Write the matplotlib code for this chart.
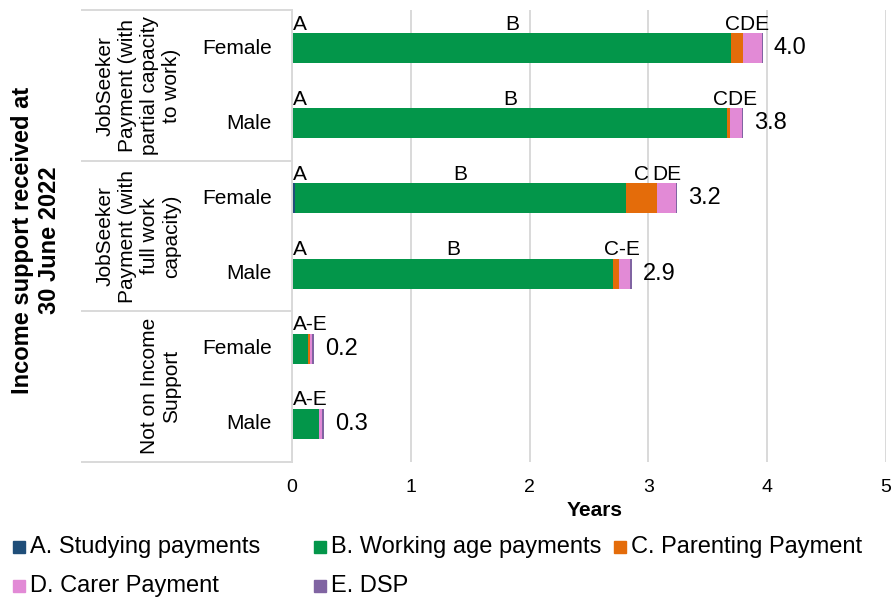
import matplotlib
matplotlib.use("Agg")
import matplotlib.pyplot as plt
from matplotlib.patches import Rectangle
import numpy as np

plt.rcParams['font.family'] = ['Liberation Sans', 'DejaVu Sans']

# Rows, top to bottom
genders = ["Female", "Male", "Female", "Male", "Female", "Male"]
groups = ["JobSeeker\nPayment (with\npartial capacity\nto work)",
          "JobSeeker\nPayment (with\nfull work\ncapacity)",
          "Not on Income\nSupport"]

# Years spent on each payment type
studying = [0.01, 0.005, 0.025, 0.01, 0.0, 0.0]
working = [3.69, 3.66, 2.785, 2.69, 0.135, 0.23]
parenting = [0.10, 0.025, 0.265, 0.05, 0.015, 0.0]
carer = [0.16, 0.10, 0.16, 0.10, 0.02, 0.02]
dsp = [0.005, 0.005, 0.005, 0.01, 0.015, 0.02]

series_names = ["A. Studying payments", "B. Working age payments", "C. Parenting Payment",
                "D. Carer Payment", "E. DSP"]
colors = ["#1F4E79", "#03964A", "#E46C0A", "#E28AD6", "#8064A2"]

# Segment labels above each bar: (text, segments it covers)
seg_labels = [
    [("A", [0]), ("B", [1]), ("CDE", [2, 3, 4])],
    [("A", [0]), ("B", [1]), ("CDE", [2, 3, 4])],
    [("A", [0]), ("B", [1]), ("C", [2]), ("DE", [3, 4])],
    [("A", [0]), ("B", [1]), ("C-E", [2, 3, 4])],
    [("A-E", [0, 1, 2, 3, 4])],
    [("A-E", [0, 1, 2, 3, 4])],
]

W, H = 892, 599
fig = plt.figure(figsize=(W / 100, H / 100), dpi=100)


def fx(px):
    return px / W


def fy(py):
    return 1 - py / H


ax = fig.add_axes([fx(292), fy(462), fx(885.75) - fx(292), fy(10) - fy(462)])

data = np.array([studying, working, parenting, carer, dsp])
y = np.arange(len(genders))
left = np.zeros(len(genders))
for vals, name, col in zip(data, series_names, colors):
    ax.barh(y, vals, left=left, height=0.4, color=col, label=name)
    left = left + vals
totals = left

ax.set_xlim(0, 5)
ax.set_ylim(5.51, -0.51)
ax.set_xticks([0, 1, 2, 3, 4, 5])
ax.tick_params(axis='x', length=0, pad=12, labelsize=14)
ax.set_yticks([])
ax.grid(axis='x', color='#d9d9d9', linewidth=1.4)
ax.set_axisbelow(True)
for s in ['top', 'right', 'bottom']:
    ax.spines[s].set_visible(False)
ax.spines['left'].set_color('#d9d9d9')
ax.spines['left'].set_linewidth(1.4)

# segment labels and totals
cum = np.vstack([np.zeros(len(genders)), np.cumsum(data, axis=0)])
for i, labs in enumerate(seg_labels):
    for text, segs in labs:
        if segs[0] == 0:
            ax.annotate(text, (0, i - 0.25), xytext=(1, 0), textcoords='offset points',
                        ha='left', va='baseline', fontsize=15)
        else:
            xc = (cum[segs[0], i] + cum[segs[-1] + 1, i]) / 2
            ax.text(xc, i - 0.25, text, ha='center', va='baseline', fontsize=15)
    ax.annotate(f"{totals[i]:.1f}", (totals[i], i), xytext=(8, 0), textcoords='offset points',
                ha='left', va='center', fontsize=17)

# gender labels
for i, g in enumerate(genders):
    ax.text(-20 / 118.75, i, g, ha='right', va='center', fontsize=15)

# group boxes on the left
trans = ax.get_yaxis_transform()
x0 = (82 - 292) / (885.75 - 292)
for yb in [-0.51, 1.5, 3.5, 5.51]:
    ax.plot([x0, 0], [yb, yb], color='#d9d9d9', linewidth=1.4, transform=trans, clip_on=False)
for k, g in enumerate(groups):
    ax.text(x0 + (181 - 82) / (885.75 - 292), 2 * k + 0.5, g, transform=trans,
            rotation=90, ha='right', va='center', multialignment='center', fontsize=15)

fig.text(fx(36), fy(240), "Income support received at\n30 June 2022", rotation=90,
         ha='center', va='center', multialignment='center', fontsize=17, fontweight='bold')
fig.text(fx(595), fy(510), "Years", ha='center', va='center', fontsize=15, fontweight='bold')

# legend
leg_pos = [(13, 547), (314, 547), (614, 547), (13, 586), (314, 586)]
for (px, py), name, col in zip(leg_pos, series_names, colors):
    fig.patches.append(Rectangle((fx(px), fy(py + 6)), fx(12), 12 / H, color=col,
                                 transform=fig.transFigure, figure=fig))
    fig.text(fx(px + 17), fy(py), name, ha='left', va='center', fontsize=17)

fig.savefig("out.png", dpi=100)
